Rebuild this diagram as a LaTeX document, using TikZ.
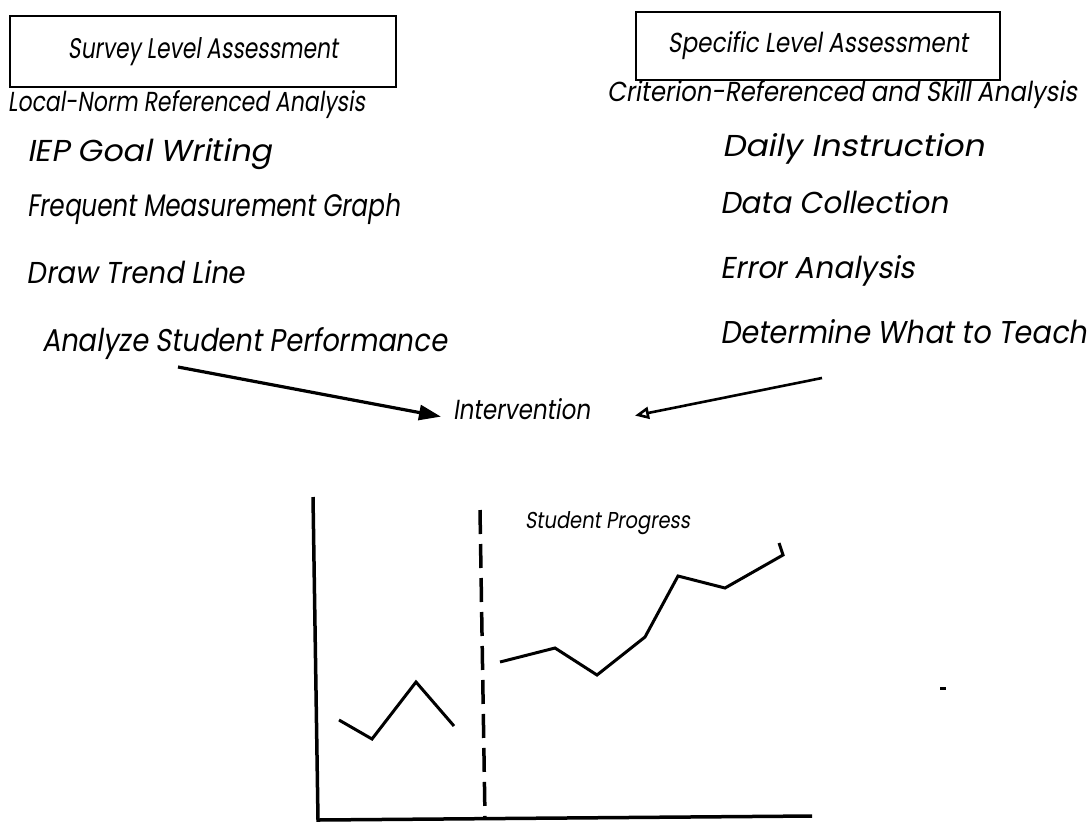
\documentclass[tikz,border=0pt]{standalone}
\usepackage{fontspec}
\usepackage{graphicx}
\newfontfamily\fut[FakeSlant=0.18]{Poppins}
\usetikzlibrary{arrows.meta}
\newcommand{\fitt}[3]{\resizebox{#1pt}{#2pt}{\fut\fontsize{20}{24}\selectfont #3}}
\begin{document}
\begin{tikzpicture}[x=1pt,y=-1pt,
  txt/.style={inner sep=0pt,outer sep=0pt,anchor=base west},
  hbox/.style={draw,line width=1.6pt,inner sep=0pt,outer sep=0pt},
  axis/.style={line width=3.5pt},
  dataline/.style={line width=3pt,line join=miter},
  bigarrow/.style={line width=3.2pt}]
\useasboundingbox (0,0) rectangle (1091,828);
% headers
\node[hbox,minimum width=386pt,minimum height=71pt] (survey) at (203,51.5) {\fitt{270}{21}{Survey Level Assessment}};
\node[hbox,minimum width=364pt,minimum height=68pt] (specific) at (818,46) {\fitt{300}{21}{Specific Level Assessment}};
\node[txt] (local) at (8,111) {\fitt{357}{21}{Local-Norm Referenced Analysis}};
\node[txt] (crit) at (607,101) {\fitt{470}{21}{Criterion-Referenced and Skill Analysis}};
% left list
\node[txt] (iep) at (27,161) {\fitt{245}{23}{IEP Goal Writing}};
\node[txt] (freq) at (27,216) {\fitt{373}{23}{Frequent Measurement Graph}};
\node[txt] (trend) at (27,283) {\fitt{218}{23}{Draw Trend Line}};
\node[txt] (analyze) at (42,351) {\fitt{405}{24}{Analyze Student Performance}};
% right list
\node[txt] (daily) at (722,156) {\fitt{263}{23}{Daily Instruction}};
\node[txt] (data) at (720,213) {\fitt{228}{23}{Data Collection}};
\node[txt] (error) at (720,278) {\fitt{195}{23}{Error Analysis}};
\node[txt] (determine) at (720,343) {\fitt{367}{24}{Determine What to Teach}};
% intervention
\node[txt] (interv) at (453,419) {\fitt{137}{21}{Intervention}};
\coordinate (s1) at (178,367);
\coordinate (s2) at (822,378);
\draw[bigarrow,-{Triangle[length=22pt,width=15pt]}] (s1) -- ([xshift=-12pt,yshift=-8pt]interv.west);
\draw[line width=2.6pt,-{Triangle[open,length=14pt,width=12pt,line width=2.6pt]}] (s2) -- ([xshift=45pt,yshift=-7pt]interv.east);
% chart
\coordinate (ytop) at (313,497);
\coordinate (orig) at (318,820);
\coordinate (xend) at (812,816);
\draw[axis] (ytop) -- (orig) -- (xend);
\coordinate (dtop) at (480,510);
\coordinate (dbot) at (485,818);
\draw[axis,dash pattern=on 24pt off 10pt] (dtop) -- (dbot);
\node[txt] (progress) at (525,528) {\fitt{165}{17}{Student Progress}};
\coordinate (p1) at (339,720);
\coordinate (p2) at (372,739);
\coordinate (p3) at (416,682);
\coordinate (p4) at (454,726);
\draw[dataline] (p1) -- (p2) -- (p3) -- (p4);
\coordinate (q1) at (500,662);
\coordinate (q2) at (555,648);
\coordinate (q3) at (597,675);
\coordinate (q4) at (645,637);
\coordinate (q5) at (678,576);
\coordinate (q6) at (725,588);
\coordinate (q7) at (783,555);
\coordinate (q8) at (779,543);
\draw[dataline] (q1) -- (q2) -- (q3) -- (q4) -- (q5) -- (q6) -- (q7) -- (q8);
\coordinate (m1) at (940,688);
\coordinate (m2) at (946,688);
\draw[line width=3pt] (m1) -- (m2);
\end{tikzpicture}
\end{document}
